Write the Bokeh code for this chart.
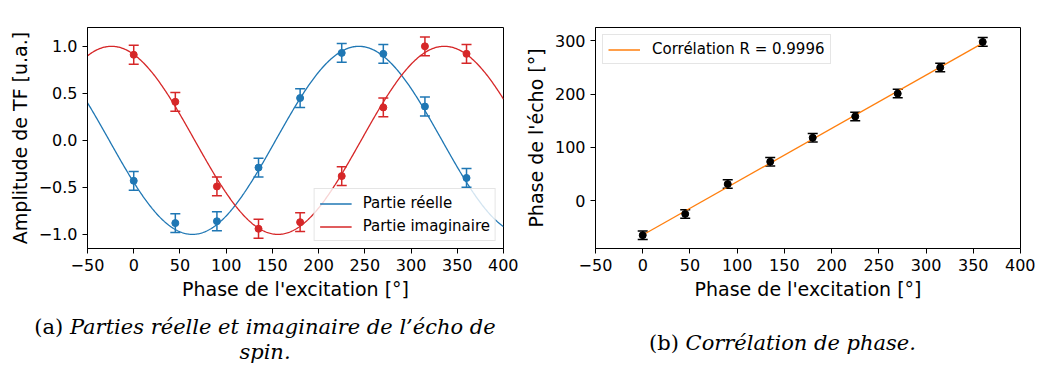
import numpy as np
from bokeh.plotting import figure
from bokeh.models import (ColumnDataSource, Whisker, TeeHead, FixedTicker, Legend,
                          LegendItem, Range1d, NumeralTickFormatter, Div)
from bokeh.layouts import row, column
from bokeh.embed import file_html
from bokeh.resources import INLINE

# ---------------- data ----------------
phase_exc = [0, 45, 90, 135, 180, 225, 270, 315, 360]
partie_reelle = [-0.43, -0.88, -0.86, -0.29, 0.45, 0.93, 0.92, 0.36, -0.40]
partie_imag = [0.91, 0.41, -0.49, -0.94, -0.87, -0.38, 0.35, 1.00, 0.92]
err_amp = [0.1, 0.1, 0.1, 0.1, 0.1, 0.1, 0.1, 0.1, 0.1]

phase_echo = [-65, -25, 31, 73, 118, 158, 201, 250, 298]
err_echo = [8, 8, 8, 8, 8, 8, 8, 8, 8]

# fitted sinusoid parameters (amplitude, phase in degrees)
fit_amp = 1.0
fit_phase_re = 243.5
fit_phase_im = 336.0

x_ticks = [-50, 0, 50, 100, 150, 200, 250, 300, 350, 400]
amp_ticks = [-1.0, -0.5, 0.0, 0.5, 1.0]
echo_ticks = [0, 100, 200, 300]

label_exc = "Phase de l'excitation [°]"
label_amp = "Amplitude de TF [u.a.]"
label_echo = "Phase de l'écho [°]"
legend_re = "Partie réelle"
legend_im = "Partie imaginaire"
legend_corr = "Corrélation R = 0.9996"
cap_a_tag = "(a)"
cap_a_line1 = "Parties réelle et imaginaire de l’écho de"
cap_a_line2 = "spin."
cap_b_tag = "(b)"
cap_b_text = "Corrélation de phase."

BLUE = "#1f77b4"
RED = "#d62728"
ORANGE = "#ff7f0e"
FONT = "DejaVu Sans"


def style(p, xlabel, ylabel):
    p.xgrid.visible = False
    p.ygrid.visible = False
    p.outline_line_color = "black"
    p.outline_line_width = 1
    p.outline_line_alpha = 1
    p.background_fill_color = "white"
    p.border_fill_color = "white"
    p.xaxis.axis_label = xlabel
    p.yaxis.axis_label = ylabel
    for ax in (p.xaxis[0], p.yaxis[0]):
        ax.axis_line_color = "black"
        ax.axis_line_width = 1
        ax.major_tick_line_color = "black"
        ax.major_tick_line_width = 1
        ax.major_tick_out = 5
        ax.major_tick_in = 0
        ax.minor_tick_line_color = None
        ax.major_label_text_font = FONT
        ax.major_label_text_font_size = "16px"
        ax.major_label_text_color = "black"
        ax.axis_label_text_font = FONT
        ax.axis_label_text_font_size = "19px"
        ax.axis_label_text_font_style = "normal"
        ax.axis_label_text_color = "black"
        ax.major_label_standoff = 5
        ax.axis_label_standoff = 5
    p.xaxis.axis_label_standoff = 4
    p.xaxis.ticker = FixedTicker(ticks=x_ticks)
    p.xaxis.major_label_overrides = {t: str(t).replace("-", "\u2212") for t in x_ticks}


def errorbars(p, xs, ys, errs, color):
    src = ColumnDataSource(dict(x=xs,
                                lo=[y - e for y, e in zip(ys, errs)],
                                hi=[y + e for y, e in zip(ys, errs)]))
    w = Whisker(base="x", lower="lo", upper="hi", source=src,
                line_color=color, line_width=1.5,
                lower_head=TeeHead(size=10, line_color=color, line_width=1.5),
                upper_head=TeeHead(size=10, line_color=color, line_width=1.5))
    p.add_layout(w)


def legend_style(lg):
    lg.label_text_font = FONT
    lg.label_text_font_size = "15px"
    lg.label_text_color = "black"
    lg.glyph_width = 32
    lg.glyph_height = 17
    lg.label_height = 17
    lg.label_standoff = 11
    lg.padding = 5
    lg.spacing = 5
    lg.margin = 7
    lg.border_line_color = "#cccccc"
    lg.border_line_width = 1
    lg.background_fill_color = "white"
    lg.background_fill_alpha = 0.8


# ---------------- left plot ----------------
p1 = figure(width=518, height=318, x_range=Range1d(-50, 400), y_range=Range1d(-1.15, 1.2),
            min_border_left=87, min_border_right=15, min_border_top=13, min_border_bottom=70,
            output_backend="svg", toolbar_location=None)
style(p1, label_exc, label_amp)
p1.yaxis.ticker = FixedTicker(ticks=amp_ticks)
p1.yaxis.formatter = NumeralTickFormatter(format="0.0")
p1.yaxis.major_label_overrides = {t: ("%.1f" % t).replace("-", "\u2212") for t in amp_ticks}

x_fit = np.linspace(-50, 400, 451)
y_fit_re = fit_amp * np.cos(np.radians(x_fit - fit_phase_re))
y_fit_im = fit_amp * np.cos(np.radians(x_fit - fit_phase_im))

l_re = p1.line(x_fit, y_fit_re, line_color=BLUE, line_width=1.3)
l_im = p1.line(x_fit, y_fit_im, line_color=RED, line_width=1.3)
errorbars(p1, phase_exc, partie_reelle, err_amp, BLUE)
errorbars(p1, phase_exc, partie_imag, err_amp, RED)
p1.scatter(phase_exc, partie_reelle, size=7, fill_color=BLUE, line_color=BLUE)
p1.scatter(phase_exc, partie_imag, size=7, fill_color=RED, line_color=RED)

lg1 = Legend(items=[LegendItem(label=legend_re, renderers=[l_re]),
                    LegendItem(label=legend_im, renderers=[l_im])],
             location="bottom_right")
legend_style(lg1)
p1.add_layout(lg1)

# ---------------- right plot ----------------
p2 = figure(width=517, height=318, x_range=Range1d(-50, 400), y_range=Range1d(-90, 325),
            min_border_left=77, min_border_right=15, min_border_top=27, min_border_bottom=56,
            output_backend="svg", toolbar_location=None)
style(p2, label_exc, label_echo)
p2.yaxis.ticker = FixedTicker(ticks=echo_ticks)

slope, intercept = np.polyfit(phase_exc, phase_echo, 1)
x_line = np.array([phase_exc[0], phase_exc[-1]], dtype=float)
l_fit = p2.line(x_line, slope * x_line + intercept, line_color=ORANGE, line_width=1.3)
errorbars(p2, phase_exc, phase_echo, err_echo, "black")
p2.scatter(phase_exc, phase_echo, size=7, fill_color="black", line_color="black")

lg2 = Legend(items=[LegendItem(label=legend_corr, renderers=[l_fit])], location="top_left")
legend_style(lg2)
lg2.label_standoff = 12
p2.add_layout(lg2)

# ---------------- captions ----------------
CAP_CSS = ("font-family:'DejaVu Serif',serif; font-size:21px; line-height:24.5px; "
           "color:black; text-align:center; white-space:nowrap; margin:0; position:relative;")

d1 = Div(width=530, height=48, margin=0,
         text=(f'<div style="{CAP_CSS} width:530px; top:-3px;">'
               f'{cap_a_tag} <i>{cap_a_line1}</i><br><i>{cap_a_line2}</i></div>'))
d2 = Div(width=505, height=48, margin=0,
         text=(f'<div style="{CAP_CSS} width:505px; top:13px;">'
               f'{cap_b_tag} <i>{cap_b_text}</i></div>'))

layout = column(row(p1, p2), row(d1, d2))

open("out.html", "w").write(file_html(layout, INLINE))
